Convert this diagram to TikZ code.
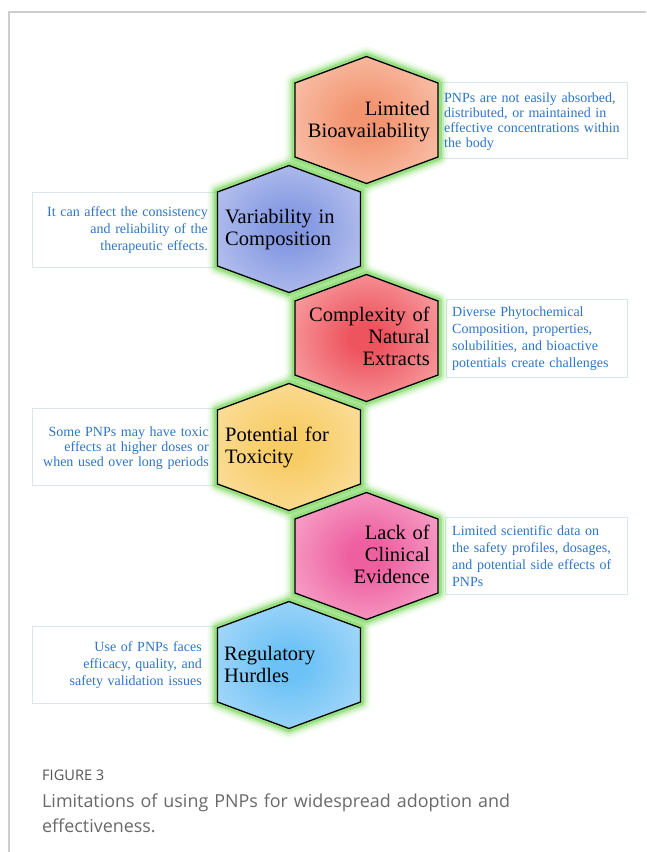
\documentclass[tikz,border=0pt]{standalone}
\usepackage{fontspec}
\setmainfont{Liberation Serif}
\newfontfamily\capfont{Open Sans}
\definecolor{framecol}{RGB}{205,205,205}
\definecolor{boxcol}{RGB}{218,230,236}
\definecolor{desccol}{RGB}{45,118,198}
\definecolor{glowcol}{RGB}{120,215,90}
\definecolor{capcol}{RGB}{105,105,105}
\definecolor{figcol}{RGB}{85,85,85}
\definecolor{aIn}{RGB}{243,148,112}\definecolor{aOut}{RGB}{250,210,192}
\definecolor{bIn}{RGB}{132,152,226}\definecolor{bOut}{RGB}{202,210,242}
\definecolor{cIn}{RGB}{238,84,94}\definecolor{cOut}{RGB}{250,188,188}
\definecolor{dIn}{RGB}{248,204,100}\definecolor{dOut}{RGB}{251,229,178}
\definecolor{eIn}{RGB}{238,95,160}\definecolor{eOut}{RGB}{250,188,216}
\definecolor{fIn}{RGB}{108,194,246}\definecolor{fOut}{RGB}{188,224,250}
\colorlet{hexin}{aIn}\colorlet{hexout}{aOut}
\pgfdeclareradialshading[hexin,hexout]{hexshade}{\pgfpoint{0bp}{0bp}}{color(0bp)=(hexin); color(6bp)=(hexin); color(40bp)=(hexout); color(50bp)=(hexout)}
\newcommand\hexat[2]{\path[#2, shift={(#1)}] (0,-63.5) -- (71.5,-37) -- (71.5,37) -- (0,63.5) -- (-71.5,37) -- (-71.5,-37) -- cycle;}
\newcommand\hexglow[1]{%
  \hexat{#1}{draw=glowcol, line width=20pt, opacity=0.10, line join=round}%
  \hexat{#1}{draw=glowcol, line width=15pt, opacity=0.16, line join=round}%
  \hexat{#1}{draw=glowcol, line width=11pt, opacity=0.28, line join=round}%
  \hexat{#1}{draw=glowcol, line width=7pt, opacity=0.55, line join=round}}
\newcommand\hexfill[3]{\colorlet{hexin}{#2}\colorlet{hexout}{#3}%
  \hexat{#1}{shading=hexshade, draw=black, line width=1.3pt, line join=miter}}
\tikzset{
  hexlbl/.style={font=\fontsize{20.5}{22}\selectfont, inner sep=0pt, text width=200pt},
  hexR/.style={hexlbl, align=right, anchor=base east},
  hexL/.style={hexlbl, align=left, anchor=base west},
  desc/.style={font=\fontsize{14}{17}\selectfont, text=desccol, inner sep=0pt, text width=200pt},
  descR/.style={desc, align=right, anchor=base east},
  descL/.style={desc, align=left, anchor=base west},
  dbox/.style={draw=boxcol, line width=0.8pt, fill=white, inner sep=0pt},
}
\begin{document}
\begin{tikzpicture}[x=1pt, y=-1pt]
\useasboundingbox (0,0) rectangle (646,852);
% frame
\coordinate (fb) at (9,852);
\coordinate (fc) at (9,12);
\coordinate (fr) at (646,12);
\draw[framecol, line width=1.2pt] (fb) -- (fc) -- (fr);
% hex centres
\coordinate (h1) at (366.5,120);
\coordinate (h2) at (289,229);
\coordinate (h3) at (366.5,338);
\coordinate (h4) at (289,447);
\coordinate (h5) at (366.5,556);
\coordinate (h6) at (289,665);
% description boxes
\node[dbox, minimum width=186pt, minimum height=76pt] (b1) at (534,120) {};
\node[dbox, minimum width=184pt, minimum height=75pt] (b2) at (124,229.5) {};
\node[dbox, minimum width=181pt, minimum height=78pt] (b3) at (536.5,338) {};
\node[dbox, minimum width=184pt, minimum height=77pt] (b4) at (124,446.5) {};
\node[dbox, minimum width=182pt, minimum height=77pt] (b5) at (536,555.5) {};
\node[dbox, minimum width=184pt, minimum height=77pt] (b6) at (124,664.5) {};
% glows
\hexglow{h1}\hexglow{h2}\hexglow{h3}\hexglow{h4}\hexglow{h5}\hexglow{h6}
% hexes
\hexfill{h1}{aIn}{aOut}
\hexfill{h2}{bIn}{bOut}
\hexfill{h3}{cIn}{cOut}
\hexfill{h4}{dIn}{dOut}
\hexfill{h5}{eIn}{eOut}
\hexfill{h6}{fIn}{fOut}
% hex labels
\node[hexR] (t1) at (430,115) {Limited\\Bioavailability};
\node[hexL] (t2) at (225,223.5) {Variability in\\Composition};
\node[hexR] (t3) at (430,321) {Complexity of\\Natural\\Extracts};
\node[hexL] (t4) at (225,441.5) {Potential for\\Toxicity};
\node[hexR] (t5) at (430,539.5) {Lack of\\Clinical\\Evidence};
\node[hexL] (t6) at (224,660) {Regulatory\\Hurdles};
% descriptions
\node[descL, font=\fontsize{14}{15}\selectfont] (d1) at (444,102) {PNPs are not easily absorbed,\\distributed, or maintained in\\effective concentrations within\\the body};
\node[descR] (d2) at (208,216.5) {It can affect the consistency\\and reliability of the\\therapeutic effects.};
\node[descL] (d3) at (452,316.5) {Diverse Phytochemical\\Composition, properties,\\solubilities, and bioactive\\potentials create challenges};
\node[descR, font=\fontsize{14}{15}\selectfont] (d4) at (209,436) {Some PNPs may have toxic\\effects at higher doses or\\when used over long periods};
\node[descL] (d5) at (452,535) {Limited scientific data on\\the safety profiles, dosages,\\and potential side effects of\\PNPs};
\node[descR] (d6) at (202,651.5) {Use of PNPs faces\\efficacy, quality, and\\safety validation issues};
% caption
\node[anchor=base west, inner sep=0pt, font=\capfont\fontsize{14.6}{16}\selectfont, text=figcol] (fig) at (42,780) {FIGURE 3};
\node[anchor=base west, inner sep=0pt, align=left, text width=560pt, font=\capfont\fontsize{17.9}{25}\selectfont, text=capcol] (cap) at (42,807) {Limitations of using PNPs for widespread adoption and\\effectiveness.};
\end{tikzpicture}
\end{document}
